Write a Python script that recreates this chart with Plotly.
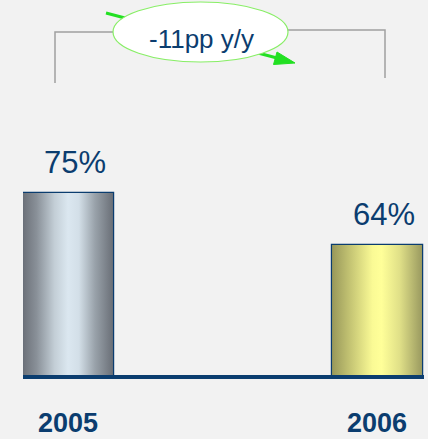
import plotly.graph_objects as go

# ---- data ----
years = ["2005", "2006"]
share = [75, 64]              # percent
change_label = "-11pp y/y"

# ---- style ----
NAVY = "#0b3d6f"
BG = "#f2f2f2"
GREEN = "#22e022"
bar_gradients = [
    [[0, "#6c7179"], [0.15, "#899098"], [0.35, "#c3ced6"], [0.5, "#dbe7f0"],
     [0.62, "#d3dfe8"], [0.8, "#99a2aa"], [1, "#6a6f77"]],
    [[0, "#98985a"], [0.2, "#c4c473"], [0.45, "#fafa95"], [0.55, "#ffff99"],
     [0.75, "#e0e088"], [1, "#9a9a60"]],
]

W, H = 428, 439
ML, MR, MT, MB = 23, 4, 0, 64
x_range = [-0.1456, 1.152]
y_range = [36.5, 115.83]
bar_width = 0.291


def px_x(px):
    return (px - ML) / (W - ML - MR)


def px_y(py):
    return (H - MB - py) / (H - MT - MB)


pos = list(range(len(years)))
fig = go.Figure()

for p, v, cs in zip(pos, share, bar_gradients):
    x0, x1 = p - bar_width / 2, p + bar_width / 2
    fig.add_trace(go.Scatter(
        x=[x0, x0, x1, x1, x0], y=[0, v, v, 0, 0],
        fill="toself", mode="lines", line=dict(width=0),
        fillgradient=dict(type="horizontal", colorscale=cs),
        hoverinfo="skip", showlegend=False))

fig.add_trace(go.Bar(
    x=pos, y=share, width=bar_width,
    marker=dict(color="rgba(0,0,0,0)", line=dict(color=NAVY, width=2.5)),
    hovertemplate="%{y}%<extra></extra>", showlegend=False))

annotations = []
for p, v in zip(pos, share):
    annotations.append(dict(
        x=p, y=v, xref="x", yref="y", text=f"{v}%", showarrow=False,
        xanchor="center", yanchor="middle", xshift=7, yshift=31,
        font=dict(family="Liberation Sans, Arial", size=31, color=NAVY)))

annotations.append(dict(
    x=px_x(201), y=px_y(39), xref="paper", yref="paper", text=change_label,
    showarrow=False, xanchor="center", yanchor="middle",
    font=dict(family="Liberation Sans, Arial", size=26, color=NAVY)))

gray = dict(color="#a0a0a0", width=1.5)
shapes = [
    dict(type="path", xref="paper", yref="paper",
         path=f"M {px_x(55)},{px_y(83)} L {px_x(55)},{px_y(32)} L {px_x(115)},{px_y(32)}",
         line=gray),
    dict(type="path", xref="paper", yref="paper",
         path=f"M {px_x(286)},{px_y(30)} L {px_x(385)},{px_y(30)} L {px_x(385)},{px_y(78)}",
         line=gray),
    # arrow shaft
    dict(type="line", xref="paper", yref="paper",
         x0=px_x(106), y0=px_y(13), x1=px_x(277), y1=px_y(58),
         line=dict(color=GREEN, width=3)),
    # arrow head
    dict(type="path", xref="paper", yref="paper",
         path=(f"M {px_x(295)},{px_y(63)} L {px_x(273.5)},{px_y(64.5)} "
               f"L {px_x(277)},{px_y(52)} Z"),
         fillcolor=GREEN, line=dict(color=GREEN, width=1)),
    # ellipse
    dict(type="circle", xref="paper", yref="paper",
         x0=px_x(113), x1=px_x(288), y0=px_y(62), y1=px_y(2),
         fillcolor="white", line=dict(color="#88ee66", width=1.2)),
]

fig.update_layout(
    width=W, height=H,
    margin=dict(l=ML, r=MR, t=MT, b=MB, autoexpand=False),
    paper_bgcolor=BG, plot_bgcolor=BG,
    showlegend=False, barmode="overlay",
    annotations=annotations, shapes=shapes,
    xaxis=dict(range=x_range, tickvals=pos, ticktext=years,
               showline=True, linecolor=NAVY, linewidth=4,
               showgrid=False, zeroline=False, ticks="",
               ticklabelstandoff=21, automargin=False,
               tickfont=dict(family="Liberation Sans, Arial", size=27,
                             color=NAVY, weight="bold"),
               fixedrange=True),
    yaxis=dict(range=y_range, visible=False, showgrid=False,
               zeroline=False, fixedrange=True, automargin=False),
)

fig.write_html(
    "out.html",
    config={"displayModeBar": False},
    post_script="document.body.style.margin='0';document.body.style.overflow='hidden';",
)
